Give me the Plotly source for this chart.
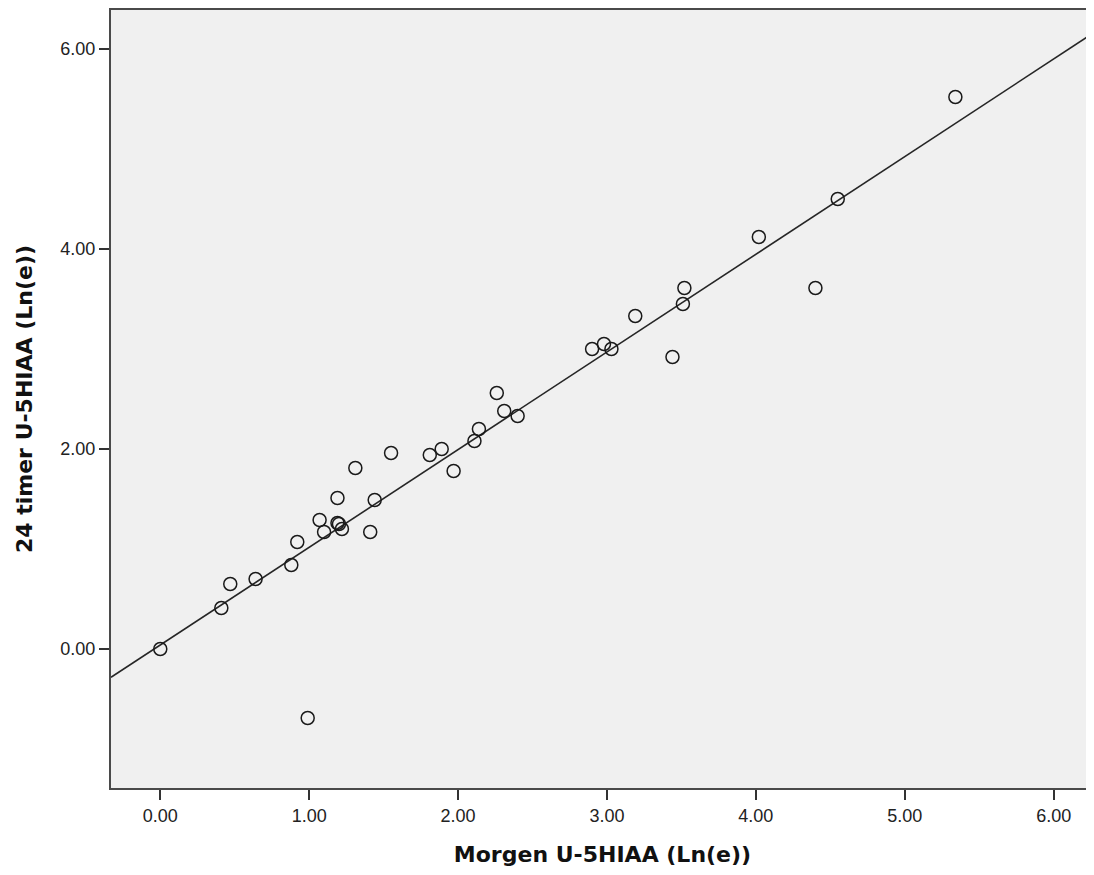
import numpy as np
import plotly.graph_objects as go

morgen = [0.00, 0.41, 0.47, 0.64, 0.88, 0.92, 0.99, 1.07, 1.10, 1.19, 1.19, 1.20, 1.22,
          1.31, 1.41, 1.44, 1.55, 1.81, 1.89, 1.97, 2.11, 2.14, 2.26, 2.31, 2.40,
          2.90, 2.98, 3.03, 3.19, 3.44, 3.51, 3.52, 4.02, 4.40, 4.55, 5.34]
timer24 = [0.00, 0.41, 0.65, 0.70, 0.84, 1.07, -0.69, 1.29, 1.17, 1.51, 1.26, 1.25, 1.20,
           1.81, 1.17, 1.49, 1.96, 1.94, 2.00, 1.78, 2.08, 2.20, 2.56, 2.38, 2.33,
           3.00, 3.05, 3.00, 3.33, 2.92, 3.45, 3.61, 4.12, 3.61, 4.50, 5.52]

x_title = "Morgen U-5HIAA (Ln(e))"
y_title = "24 timer U-5HIAA (Ln(e))"
x_range = [-0.331, 6.271]
y_range = [-1.39, 6.39]

slope, intercept = np.polyfit(morgen, timer24, 1)
line_x = np.array(x_range)
line_y = slope * line_x + intercept

fig = go.Figure()
fig.add_trace(go.Scatter(
    x=line_x, y=line_y, mode="lines",
    line=dict(color="#262626", width=1.6), hoverinfo="skip", showlegend=False))
fig.add_trace(go.Scatter(
    x=morgen, y=timer24, mode="markers",
    marker=dict(symbol="circle-open", size=13, color="#1a1a1a", line=dict(width=1.5)),
    showlegend=False))

tick_font = dict(family="Liberation Sans, Arial", size=18, color="#222222")
title_font = dict(family="DejaVu Sans, Liberation Sans", size=22, color="#111111")

axis_common = dict(
    showgrid=False, zeroline=False, showline=True, linecolor="#4a4a4a", linewidth=2,
    ticks="outside", ticklen=10, tickwidth=2, tickcolor="#333333",
    tickformat=".2f", tickfont=tick_font,
)

fig.update_layout(
    width=1086, height=859,
    margin=dict(l=103, r=0, t=2, b=79),
    paper_bgcolor="white", plot_bgcolor="#f0f0f0",
    xaxis=dict(range=x_range, dtick=1, tick0=0, mirror=True, **axis_common,
               title=dict(text="<b>" + x_title + "</b>", standoff=22, font=title_font)),
    yaxis=dict(range=y_range, dtick=2, tick0=0, mirror=False, **axis_common,
               title=dict(text="<b>" + y_title + "</b>", standoff=22, font=title_font)),
)

fig.write_html("out.html")
